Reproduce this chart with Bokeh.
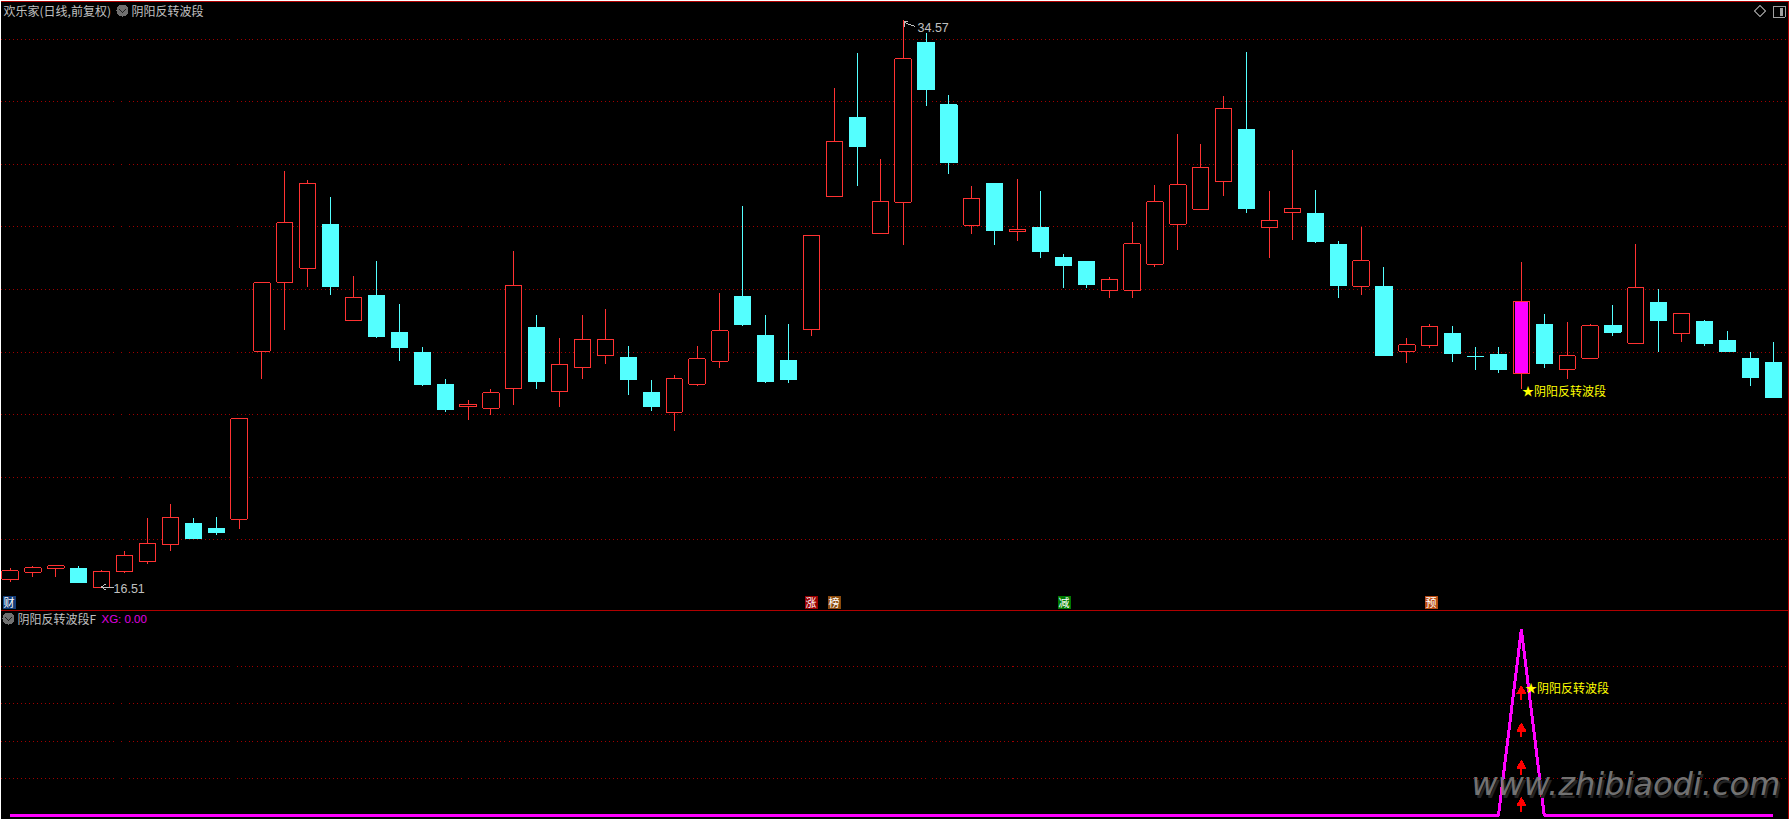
from bokeh.plotting import figure
from bokeh.models import Range1d, FixedTicker, Grid
from bokeh.core.properties import value
from bokeh.embed import file_html
from bokeh.resources import INLINE

# ---- daily prices ----
opens = [16.76,16.99,17.11,17.11,16.51,17.02,17.34,17.88,18.54,18.38,18.68,24.03,26.23,26.68,28.07,25.02,25.81,24.63,23.99,22.97,
         22.27,22.21,22.85,24.79,22.76,23.52,23.90,23.83,22.71,22.09,22.98,23.71,25.77,24.53,23.73,24.73,28.97,31.48,27.79,28.78,
         33.87,31.89,28.05,29.38,27.85,27.97,27.02,26.89,25.97,25.97,26.80,28.08,28.56,29.45,31.10,27.98,28.46,28.42,27.43,26.10,
         26.09,24.03,24.22,24.59,23.85,23.93,23.33,24.88,23.46,23.81,24.85,24.29,25.58,24.60,24.98,24.37,23.80,23.67]
closes = [17.03,17.13,17.19,16.66,17.00,17.51,17.89,18.72,18.06,18.25,21.88,26.21,28.12,29.38,26.09,25.73,24.50,24.15,22.97,22.17,
          22.33,22.70,26.12,23.07,23.60,24.39,24.39,23.13,22.27,23.15,23.79,24.68,24.88,23.07,23.13,27.71,30.70,30.55,28.79,33.35,
          32.37,30.04,28.89,27.88,27.91,27.21,26.76,26.16,26.31,27.45,28.79,29.33,29.88,31.76,28.58,28.19,28.57,27.53,26.12,26.91,
          23.89,24.23,24.81,23.96,23.85,23.45,25.61,23.64,23.88,24.84,24.63,26.05,25.01,25.22,24.28,24.02,23.19,22.56]
highs = [17.13,17.19,17.20,17.20,17.06,17.65,18.72,19.17,18.72,18.76,21.88,26.21,29.76,29.50,28.96,26.44,26.89,25.55,24.18,23.16,
         22.46,22.84,27.21,25.20,24.44,25.17,25.36,24.21,23.10,23.26,24.21,25.90,28.67,25.17,24.91,27.71,32.43,33.52,30.14,34.57,
         34.16,32.21,29.31,29.38,29.53,29.12,27.14,26.89,26.38,28.16,29.34,30.94,30.62,32.15,33.55,29.15,30.43,29.18,27.53,27.98,
         26.70,24.44,24.91,24.82,24.15,24.18,26.86,25.23,24.95,24.91,25.49,27.46,26.00,25.22,25.01,24.66,24.02,24.31]
lows = [16.66,16.82,16.82,16.63,16.51,16.95,17.26,17.66,18.06,18.16,18.35,23.13,24.72,26.09,25.81,25.02,24.44,23.73,22.91,22.08,
        21.85,22.01,22.33,22.81,22.24,23.13,23.62,22.62,22.14,21.50,22.91,23.51,24.82,23.03,23.03,24.50,28.97,29.28,27.79,27.40,
        31.83,29.69,27.75,27.40,27.53,26.99,26.03,26.06,25.71,25.74,26.70,27.27,28.56,28.99,28.42,26.99,27.56,27.49,25.74,25.81,
        23.89,23.67,24.12,23.70,23.42,23.32,22.81,23.51,23.13,23.81,24.53,24.29,24.02,24.31,24.21,24.02,22.91,22.56]
signal_days = [66]
xg_days = [0, 65, 66, 67, 77]
xg_vals = [0, 0, 5, 0, 0]
arrow_vals = [0.1, 1.1, 2.1, 3.1]
price_grid = [33.96, 31.98, 29.97, 27.99, 25.99, 23.98, 22.00, 19.99, 18.02]
xg_grid = [1, 2, 3, 4]
high_label, low_label = "34.57", "16.51"

RED, CYAN, MAG = "#ff3232", "#54ffff", "#ff00ff"
GREY = "#c0c0c0"
CJK = value("Noto Sans CJK SC")

W, H = 1789, 819
p = figure(width=W, height=H, output_backend="svg", toolbar_location=None, tools="",
           x_range=Range1d(-0.419, 77.71), y_range=Range1d(9.106, 35.207),
           min_border=0, background_fill_color="#000000", border_fill_color="#000000",
           outline_line_color=None,
           stylesheets=[":host{shape-rendering:crispEdges}"])
p.extra_x_ranges = {"px": Range1d(0, W)}
p.extra_y_ranges = {"px": Range1d(H, 0), "xg": Range1d(-0.1075, 21.9)}
p.xaxis.visible = False
p.yaxis.visible = False
p.xgrid.visible = False
p.ygrid.ticker = FixedTicker(ticks=price_grid)
p.ygrid.grid_line_color = "#a00000"
p.ygrid.grid_line_dash = "1 3"
g2 = Grid(dimension=1, ticker=FixedTicker(ticks=xg_grid), y_range_name="xg",
          grid_line_color="#a00000", grid_line_dash="1 3")
p.add_layout(g2)
px = dict(x_range_name="px", y_range_name="px")

# frame lines and right-hand ruler
p.segment([0, 1787.5, 0], [0.5, 0, 609.5], [W, 1787.5, 1787], [0.5, H, 609.5], line_color="#b00000", line_width=1, **px)
p.segment([1787.5]*15, [39.5, 70.5, 101.5, 133.5, 164.5, 195.5, 226.5, 258.5, 289.5, 320.5, 352.5, 383.5, 414.5, 445.5, 477.5],
          [1789]*15, [39.5, 70.5, 101.5, 133.5, 164.5, 195.5, 226.5, 258.5, 289.5, 320.5, 352.5, 383.5, 414.5, 445.5, 477.5],
          line_color="#b00000", **px)
p.segment([1787.5]*9, [629.5, 648.5, 666.5, 685.5, 704.5, 723.5, 741.5, 760.5, 778.5],
          [1789]*9, [629.5, 648.5, 666.5, 685.5, 704.5, 723.5, 741.5, 760.5, 778.5], line_color="#b00000", **px)
p.quad(left=[1788], right=[1789], top=[129], bottom=[145], fill_color="#0000a0", line_color=None, **px)

# candles
idx = list(range(len(opens)))
up = [c > o for o, c in zip(opens, closes)]
cols = [RED if u else CYAN for u in up]
fills = ["#000000" if u else CYAN for u in up]
p.segment(idx, highs, idx, lows, line_color=cols, line_width=1)
p.vbar(x=idx, top=[max(o, c) for o, c in zip(opens, closes)], bottom=[min(o, c) for o, c in zip(opens, closes)],
       width=0.71, fill_color=fills, line_color=cols, line_width=1)
p.vbar(x=signal_days, top=[closes[d] for d in signal_days], bottom=[opens[d] for d in signal_days],
       width=0.58, fill_color=MAG, line_color=None)

# XG pane
p.line(xg_days, xg_vals, line_color=MAG, line_width=3, y_range_name="xg")
ax = [signal_days[0]] * len(arrow_vals)
p.segment(ax, arrow_vals, ax, [v + 0.23 for v in arrow_vals], line_color="#ff0000", line_width=2, y_range_name="xg")
p.scatter(ax, [v + 0.24 for v in arrow_vals], marker="triangle", size=9, fill_color="#ff0000", line_color="#ff0000", y_range_name="xg")

# header icons
for cx, cy in [(122, 10), (8, 618)]:
    p.scatter([cx], [cy], marker="circle", size=12, fill_color="#707070", line_color=None, **px)
    p.multi_line([[cx - 3, cx, cx + 3]], [[cy - 1, cy + 2, cy - 1]], line_color="#202020", line_width=1, **px)
p.scatter([1759.5], [10.5], marker="square", size=8, angle=0.785, fill_color=None, line_color="#808080", **px)
p.quad(left=[1772.5], right=[1784.5], top=[5.5], bottom=[16.5], fill_color=None, line_color="#a0a0a0", **px)
p.quad(left=[1779], right=[1782], top=[7], bottom=[15], fill_color="#a0a0a0", line_color=None, **px)

# tags
tag_txt = ["财", "涨", "榜", "减", "预"]
tag_x = [2, 804, 827, 1057, 1424]
tag_bg = ["#123c78", "#990000", "#8b4a0c", "#007a00", "#b84a10"]
p.quad(left=tag_x, right=[v + 13 for v in tag_x], top=[595]*5, bottom=[608]*5, fill_color=tag_bg, line_color=None, **px)
p.text([v + 6.5 for v in tag_x], [601.5]*5, text=tag_txt, text_color="#ffffff", text_font=CJK, text_font_size="11px",
       text_align="center", text_baseline="middle", **px)

# pointer lines for high / low
p.multi_line([[101, 113], [101, 105], [101, 105], [904, 906, 915], [904, 907], [904, 904]],
             [[586.5, 586.5], [586.5, 583.5], [586.5, 589.5], [21, 23, 26], [21, 21], [21, 26]],
             line_color=GREY, line_width=1, **px)

# texts
def label(x, y, s, color=GREY, font=CJK, size="12px", **kw):
    p.text([x], [y], text=[s], text_color=color, text_font=font, text_font_size=size,
           text_align="left", text_baseline="middle", **px, **kw)

label(3, 10, "欢乐家(日线,前复权)")
label(131, 10, "阴阳反转波段")
label(17, 618, "阴阳反转波段F")
label(101, 618, "XG: 0.00", color="#e000e0", font=value("Liberation Sans"), size="11.5px")
label(113, 588, low_label, font=value("Liberation Sans"), size="12.5px")
label(917, 27, high_label, font=value("Liberation Sans"), size="12.5px")
label(1521.5, 390, "★阴阳反转波段", color="#ffff00")
label(1524.5, 687, "★阴阳反转波段", color="#ffff00")

# watermark
WM = "www.zhibiaodi.com"
p.text([1473], [786], text=[WM], text_color="#242424", text_font=value("DejaVu Sans"), text_font_style="italic",
       text_font_size="32px", text_align="left", text_baseline="alphabetic", **px)
p.text([1471], [783], text=[WM], text_color="#808080", text_alpha=0.9, text_font=value("DejaVu Sans"), text_font_style="italic",
       text_font_size="32px", text_align="left", text_baseline="alphabetic", **px)

open("out.html", "w").write(file_html(p, INLINE))
